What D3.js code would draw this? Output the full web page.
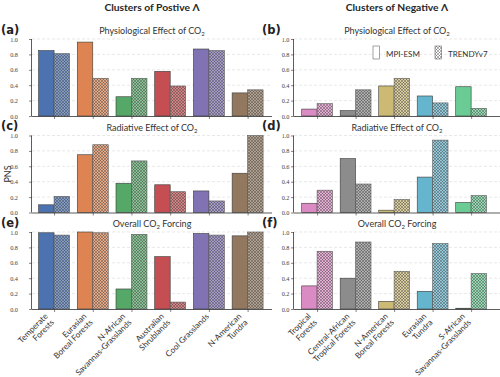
<!DOCTYPE html>
<html><head><meta charset="utf-8">
<script src="https://cdn.jsdelivr.net/npm/d3@7"></script>
<style>body{margin:0;background:#fff}svg{display:block}</style>
</head><body><svg id="c" width="500" height="377"></svg>
<script>
// ---------- data ----------
const posCats = ["Temperate\nForests","Eurasian\nBoreal Forests","N-African\nSavannas-Grasslands","Australian\nShrublands","Cool Grasslands","N-American\nTundra"];
const negCats = ["Tropical\nForests","Central-African\nTropical Forests","N-American\nBoreal Forests","Eurasian\nTundra","S-African\nSavannas-Grasslands"];
const posColors = ["#4c72b0","#dd8452","#55a868","#c44e52","#8172b3","#937860"];
const negColors = ["#da8bc3","#8c8c8c","#ccb974","#64b5cd","#6acc94"];
const physPosMPI    = [0.85,0.96,0.25,0.58,0.87,0.30];
const physPosTRENDY = [0.81,0.49,0.49,0.39,0.85,0.34];
const physNegMPI    = [0.09,0.07,0.39,0.26,0.38];
const physNegTRENDY = [0.16,0.34,0.49,0.17,0.10];
const radPosMPI     = [0.10,0.75,0.38,0.36,0.28,0.51];
const radPosTRENDY  = [0.21,0.88,0.67,0.27,0.15,1.00];
const radNegMPI     = [0.12,0.70,0.03,0.46,0.13];
const radNegTRENDY  = [0.29,0.37,0.17,0.94,0.22];
const allPosMPI     = [0.99,1.00,0.26,0.68,0.98,0.95];
const allPosTRENDY  = [0.96,0.99,0.97,0.09,0.96,1.00];
const allNegMPI     = [0.30,0.40,0.10,0.23,0.01];
const allNegTRENDY  = [0.75,0.87,0.49,0.85,0.46];
const yTicks = [0,0.2,0.4,0.6,0.8,1.0];
const seriesNames = ["MPI-ESM","TRENDYv7"];
const columnTitles = ["Clusters of Postive Λ","Clusters of Negative Λ"];

// ---------- layout ----------
const svg = d3.select("#c");
const txt = "#262626";
const sans = "Lato, 'Noto Sans', sans-serif";
const serif = "'Liberation Serif', serif";
const defs = svg.append("defs");

function hatchId(color){
  const id = "h" + color.slice(1);
  if (defs.select("#"+id).empty()){
    const lighter = d3.interpolateRgb(color, "#ffffff")(0.3);
    const p = defs.append("pattern").attr("id", id).attr("patternUnits","userSpaceOnUse")
      .attr("width",3).attr("height",3);
    p.append("rect").attr("width",3).attr("height",3).attr("fill",lighter);
    p.append("path").attr("d","M0,0L3,3M3,0L0,3M-1,2L1,4M2,-1L4,1M-1,1L1,-1M2,4L4,2")
      .attr("stroke","#3c3c3c").attr("stroke-width",0.55).attr("stroke-opacity",0.75);
  }
  return "url(#"+id+")";
}

const rowTops = [39, 135.5, 232];
const rowH = 77;
const cols = [
  {cats: posCats, colors: posColors, x0: 32, x1: 272, dom: [-0.57, 5.63], pad: 11, series: [[physPosMPI,physPosTRENDY],[radPosMPI,radPosTRENDY],[allPosMPI,allPosTRENDY]], labels:["(a)","(c)","(e)"], lx: 1},
  {cats: negCats, colors: negColors, x0: 294, x1: 500, dom: [-0.6, 4.75], pad: 1.5, series: [[physNegMPI,physNegTRENDY],[radNegMPI,radNegTRENDY],[allNegMPI,allNegTRENDY]], labels:["(b)","(d)","(f)"], lx: 262}
];
const rowTitles = [["Physiological Effect of CO","2"],["Radiative Effect of CO","2"],["Overall CO"," Forcing"]];

cols.forEach((col, ci) => {
  const x = d3.scaleLinear().domain(col.dom).range([col.x0, col.x1]);
  const cx = (col.x0 + col.x1)/2;
  svg.append("text").attr("x", cx).attr("y", 11).attr("text-anchor","middle")
    .attr("font-family", sans).attr("font-weight","bold").attr("font-size", 10.3).attr("fill", txt)
    .text(columnTitles[ci]);
  rowTops.forEach((top, ri) => {
    const y = d3.scaleLinear().domain([0,1]).range([top+rowH, top]);
    const g = svg.append("g");
    // grid
    g.selectAll("line.grid").data(yTicks.slice(1)).join("line")
      .attr("x1", col.x0).attr("x2", col.x1).attr("y1", d=>y(d)).attr("y2", d=>y(d))
      .attr("stroke","#d9d9d9").attr("stroke-width",0.6).attr("stroke-dasharray","3,2");
    // bars
    const [mpi, tr] = col.series[ri];
    g.selectAll("rect.m").data(mpi).join("rect")
      .attr("x",(d,i)=>x(i-0.4)).attr("width",(d,i)=>x(i)-x(i-0.4))
      .attr("y",d=>y(d)).attr("height",d=>y(0)-y(d))
      .attr("fill",(d,i)=>col.colors[i]).attr("stroke","#3a3a3a").attr("stroke-width",0.6);
    g.selectAll("rect.t").data(tr).join("rect")
      .attr("x",(d,i)=>x(i)).attr("width",(d,i)=>x(i+0.4)-x(i))
      .attr("y",d=>y(d)).attr("height",d=>y(0)-y(d))
      .attr("fill",(d,i)=>hatchId(col.colors[i])).attr("stroke","#5a5a5a").attr("stroke-width",0.6);
    // axes
    const ya = g.append("g").attr("transform",`translate(${col.x0},0)`)
      .call(d3.axisLeft(y).tickValues(yTicks).tickFormat(d3.format(".1f")).tickSize(3).tickPadding(col.pad));
    ya.select(".domain").attr("stroke","#333").attr("stroke-width",0.8).attr("d",`M-0.5,${y(1)}V${y(0)}`);
    ya.selectAll(".tick line").attr("stroke","#333").attr("stroke-width",0.6);
    ya.selectAll("text").attr("font-family",serif).attr("font-size",6.3).attr("fill","#444");
    const xa = g.append("g").attr("transform",`translate(0,${y(0)})`)
      .call(d3.axisBottom(x).tickValues(d3.range(col.cats.length)).tickFormat("").tickSize(3));
    xa.select(".domain").attr("stroke","#333").attr("stroke-width",0.8).attr("d",`M${col.x0},0.5H${col.x1}`);
    xa.selectAll(".tick line").attr("stroke","#333").attr("stroke-width",0.6);
    // titles
    const t = svg.append("text").attr("x", cx).attr("y", top-5).attr("text-anchor","middle")
      .attr("font-family", sans).attr("font-size", 9).attr("fill", "#333");
    if (ri < 2){
      t.append("tspan").text(rowTitles[ri][0]);
      t.append("tspan").attr("font-size",6).attr("dy",2).text(rowTitles[ri][1]);
    } else {
      t.append("tspan").text(rowTitles[ri][0]);
      t.append("tspan").attr("font-size",6).attr("dy",2).text("2");
      t.append("tspan").attr("dy",-2).text(rowTitles[ri][1]);
    }
    svg.append("text").attr("x", col.lx).attr("y", top-5.5).attr("font-family","'DejaVu Sans', sans-serif")
      .attr("font-weight","bold").attr("font-size",11.5).attr("fill","#222").text(col.labels[ri]);
    // category labels on bottom row
    if (ri === 2){
      col.cats.forEach((c, i) => {
        const lines = c.split("\n");
        const n = lines.length;
        const lg = svg.append("g").attr("transform",`translate(${x(i)+0.5},${y(0)+8+(n-1)*6}) rotate(-45)`);
        lines.forEach((ln, k) => {
          lg.append("text").attr("x",0).attr("y",(k-(n-1))*8.8)
            .attr("text-anchor","end").attr("font-family",sans).attr("font-size",8.2).attr("fill","#333").text(ln);
        });
      });
    }
  });
});

// y label
svg.append("text").attr("transform",`translate(8,${rowTops[1]+rowH/2}) rotate(-90)`)
  .attr("text-anchor","middle").attr("dy","0.35em").attr("font-family",sans).attr("font-size",9).attr("fill","#333").text("PNS");

// legend (in panel b)
const leg = svg.append("g");
const legItems = [{x:373, fill:"#ffffff", name:seriesNames[0]},{x:435, fill:hatchId("#ffffff"), name:seriesNames[1]}];
legItems.forEach(it => {
  leg.append("rect").attr("x",it.x).attr("y",46).attr("width",6.5).attr("height",13)
    .attr("fill",it.fill).attr("stroke","#666").attr("stroke-width",0.6);
  leg.append("text").attr("x",it.x+13).attr("y",56.5).attr("font-family",sans).attr("font-size",8)
    .attr("fill","#333").text(it.name);
});
</script></body></html>
